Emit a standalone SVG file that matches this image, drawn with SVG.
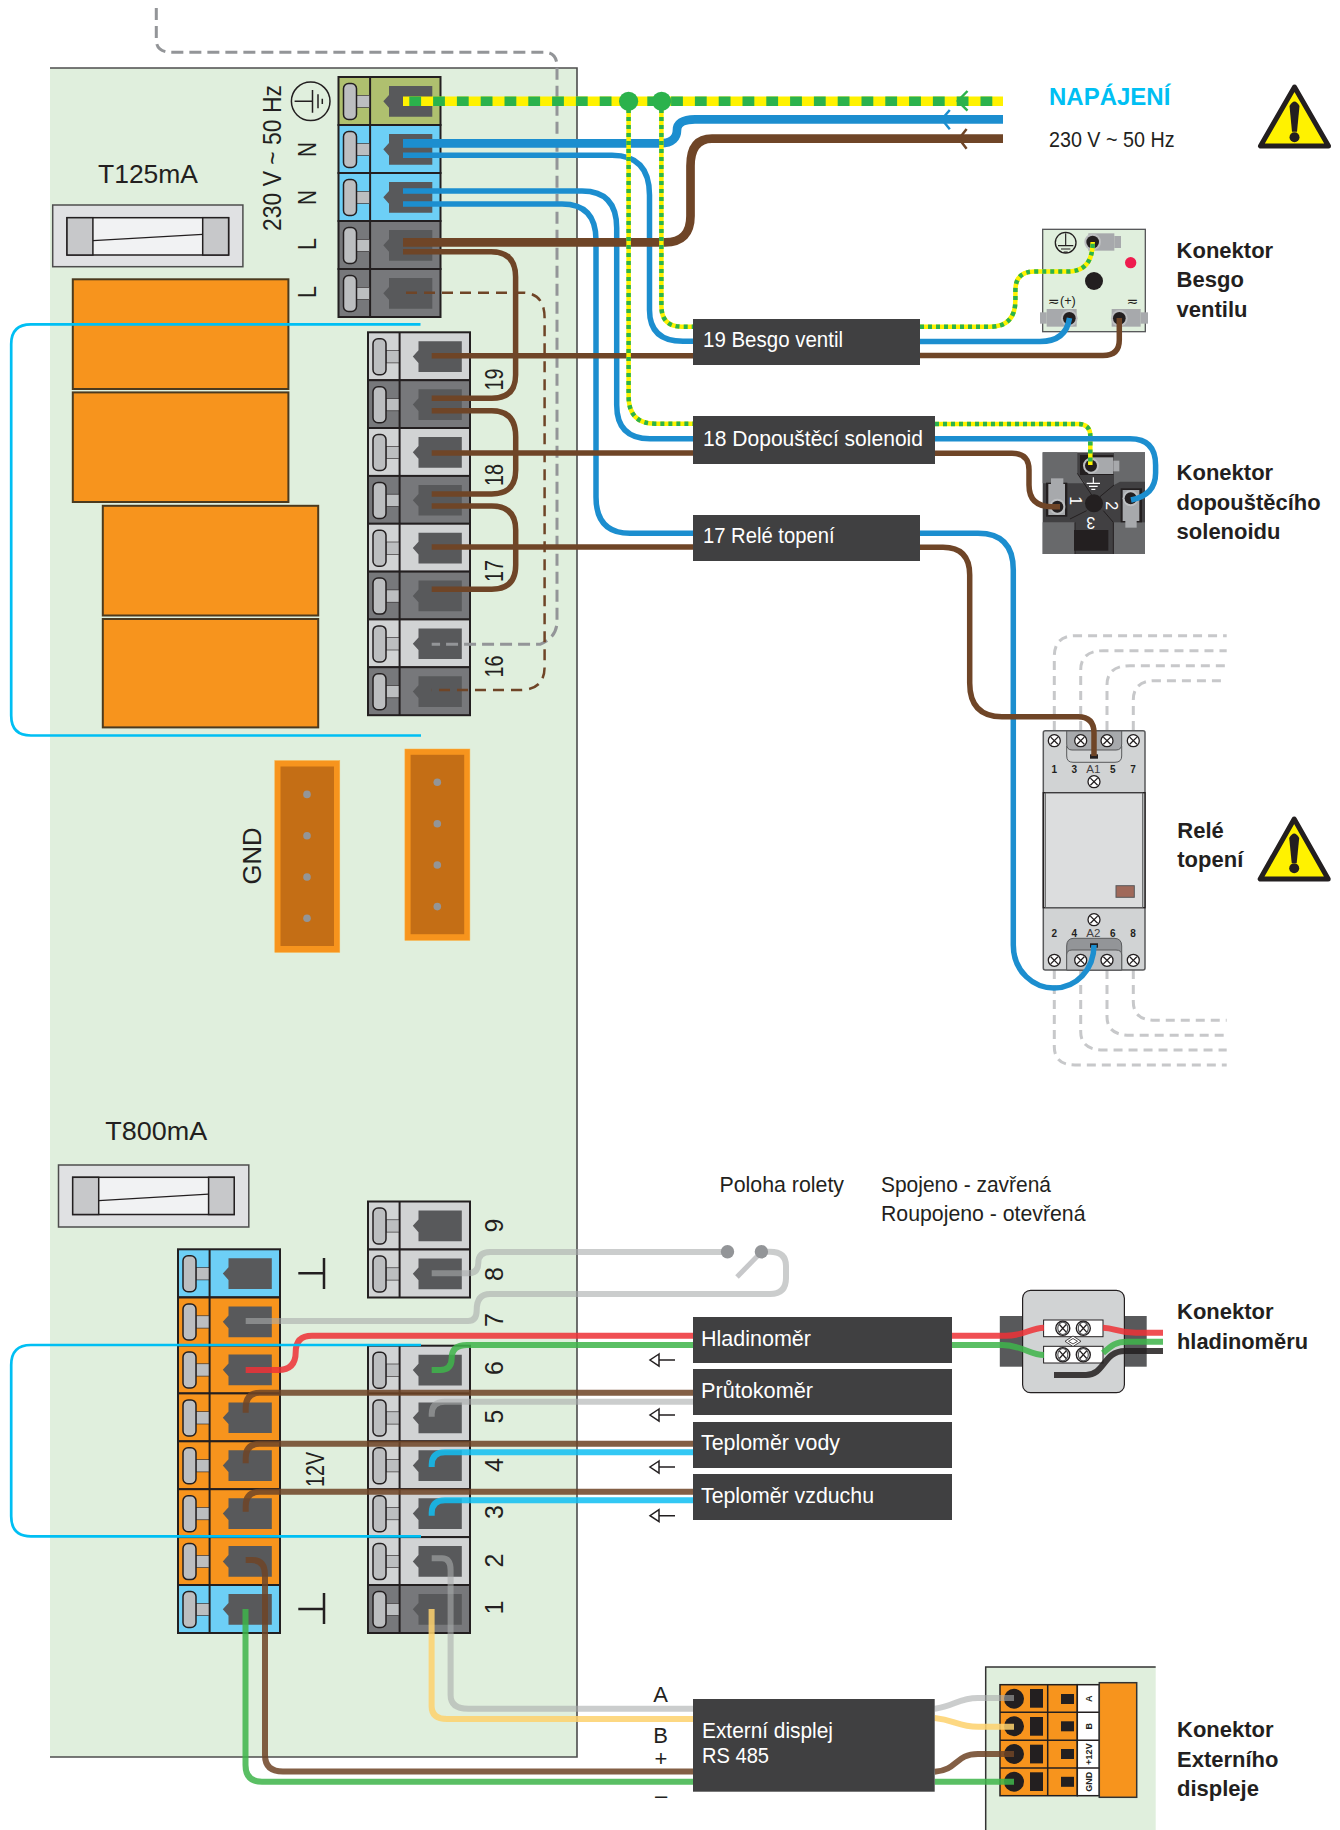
<svg xmlns="http://www.w3.org/2000/svg" xmlns:xlink="http://www.w3.org/1999/xlink" width="1340" height="1830" viewBox="0 0 1340 1830">
<style>
text{font-family:"Liberation Sans",Arial,sans-serif;fill:#231f20}
.b{font-weight:bold;font-size:22px}
.l{font-size:22px}
.w{fill:#fff;font-size:22px}
.v{font-size:25px}
.box{fill:#404041}
.wire{fill:none;stroke-linecap:butt}
.blue{stroke:#1c8ecf;stroke-width:5.5}
.blueT{stroke:#1c8ecf;stroke-width:8.7}
.brown{stroke:#6f4527;stroke-width:5.5}
.brownT{stroke:#6f4527;stroke-width:8.7}
.ey{stroke:#fff200;stroke-width:4.5}
.eg{stroke:#2bb24c;stroke-width:4.5;stroke-dasharray:4 4}
.low{stroke-width:6;stroke-opacity:.86}
.red{stroke:#ed3237}.grn{stroke:#3fb54a}.gry{stroke:#a9abab;stroke-opacity:.6}.cyn{stroke:#12bff2}.brn{stroke:#6f4527}.yel{stroke:#fdd26e}.blk{stroke:#231f20}
.cy{fill:none;stroke:#00bff3;stroke-width:2.7}
.dl{fill:none;stroke:#c7c8ca;stroke-width:3;stroke-dasharray:9 6}
.sc{fill:#fff;stroke:#231f20;stroke-width:1.3}
.sx{stroke:#231f20;stroke-width:1.3;fill:none}
.o{fill:#f7941d;stroke:#4b3a1f;stroke-width:2}
.sym{fill:none;stroke:#231f20;stroke-width:1.5}
.w2{fill:none;stroke:#231f20;stroke-width:2.5}
.ar{fill:none;stroke:#231f20;stroke-width:1.5}
.pin{fill:#939598}
.hdr{fill:#f7941d;stroke:#fbb040;stroke-width:.5}
.hin{fill:#c46e15}
.lbl{font-weight:bold;font-size:9px}
.rn{font-size:10px;font-weight:bold;text-anchor:middle}
.dv{font-family:"DejaVu Sans",sans-serif}
</style>
<defs>
<g id="t">
<rect width="102" height="48" stroke="#231f20" stroke-width="2"/>
<line x1="31.6" y1="0" x2="31.6" y2="48" stroke="#231f20" stroke-width="2"/>
<rect x="18" y="18.3" width="13" height="12.3" fill="#bcbec0" stroke="#231f20" stroke-width=".6"/>
<rect x="5" y="6.5" width="13" height="36" rx="5" fill="#bcbec0" stroke="#231f20" stroke-width="1.5"/>
<polygon points="50.5,9 93.8,9 93.8,39.7 50.5,39.7 50.5,30.7 44.8,24.3 50.5,18" fill="#58595b"/>
</g>
<g id="sx"><circle r="6" class="sc"/><path class="sx" d="M-3.6-3.6 3.6 3.6M-3.6 3.6 3.6-3.6"/></g>
<g id="sy"><circle r="7" fill="#fff" stroke="#231f20" stroke-width="1.4"/><ellipse rx="5" ry="6.2" fill="none" stroke="#58595b" stroke-width="1.2"/><path class="sx" d="M-3.4-3.8 3.4 3.8M-3.4 3.8 3.4-3.8"/></g>
<path id="arr" d="M25 0H9M9-6-0 0 9 6Z"/>
</defs>
<rect width="1340" height="1830" fill="#fff"/>

<g id="board">
<rect x="50" y="68" width="527" height="1689" fill="#e0efdd"/>
<path d="M50 68H577V1757H50" fill="none" stroke="#4d4d4d" stroke-width="1.6"/>
</g>

<g id="fuse-t125">
<text x="98" y="182.7" class="v" textLength="100" lengthAdjust="spacingAndGlyphs">T125mA</text>
<rect x="52.7" y="205" width="190.2" height="61.7" fill="#e0e1e3" stroke="#4d4d4d" stroke-width="1.5"/>
<rect x="67" y="217.7" width="161.6" height="37.3" fill="#f1f2f3" stroke="#231f20" stroke-width="1.5"/>
<rect x="67" y="217.7" width="25.9" height="37.3" fill="#c7c8ca" stroke="#231f20" stroke-width="1.5"/>
<rect x="202.7" y="217.7" width="25.9" height="37.3" fill="#c7c8ca" stroke="#231f20" stroke-width="1.5"/>
<line x1="93" y1="240.7" x2="202.7" y2="234.3" stroke="#231f20" stroke-width="1.2"/>
</g>
<g id="fuse-t800">
<text x="105.2" y="1140" class="v" textLength="102" lengthAdjust="spacingAndGlyphs">T800mA</text>
<rect x="58.5" y="1165" width="190.3" height="62" fill="#e0e1e3" stroke="#4d4d4d" stroke-width="1.5"/>
<rect x="72.7" y="1177.3" width="161.5" height="37.2" fill="#f1f2f3" stroke="#231f20" stroke-width="1.5"/>
<rect x="72.7" y="1177.3" width="26" height="37.2" fill="#c7c8ca" stroke="#231f20" stroke-width="1.5"/>
<rect x="208.6" y="1177.3" width="25.6" height="37.2" fill="#c7c8ca" stroke="#231f20" stroke-width="1.5"/>
<line x1="98.7" y1="1200.7" x2="208.6" y2="1194.2" stroke="#231f20" stroke-width="1.2"/>
</g>

<g id="modules">
<rect class="o" x="72.8" y="279.3" width="215.6" height="109.7"/>
<rect class="o" x="72.8" y="392.4" width="215.6" height="109.6"/>
<rect class="o" x="102.8" y="505.8" width="215.4" height="109.7"/>
<rect class="o" x="102.8" y="619" width="215.4" height="108.4"/>
</g>

<g id="header-gnd">
<rect class="hdr" x="274.8" y="760.6" width="65" height="191.8"/>
<rect class="hin" x="280.5" y="766.5" width="53.5" height="179.5"/>
<circle class="pin" cx="307" cy="794.4" r="3.8"/><circle class="pin" cx="307" cy="835.7" r="3.8"/><circle class="pin" cx="307" cy="877" r="3.8"/><circle class="pin" cx="307" cy="918.3" r="3.8"/>
<text transform="translate(261 884.6) rotate(-90)" class="v" textLength="57.2" lengthAdjust="spacingAndGlyphs">GND</text>
</g>
<g id="header-2">
<rect class="hdr" x="404.9" y="749" width="65" height="191.4"/>
<rect class="hin" x="410.6" y="754.8" width="53.6" height="179.4"/>
<circle class="pin" cx="437.3" cy="782.3" r="3.8"/><circle class="pin" cx="437.3" cy="823.7" r="3.8"/><circle class="pin" cx="437.3" cy="865" r="3.8"/><circle class="pin" cx="437.3" cy="906.6" r="3.8"/>
</g>

<g id="mains-terminals">
<use xlink:href="#t" href="#t" x="338.5" y="77" fill="#afc06f"/>
<use xlink:href="#t" href="#t" x="338.5" y="125" fill="#6dcff6"/>
<use xlink:href="#t" href="#t" x="338.5" y="173" fill="#6dcff6"/>
<use xlink:href="#t" href="#t" x="338.5" y="221" fill="#77787b"/>
<use xlink:href="#t" href="#t" x="338.5" y="269" fill="#77787b"/>
<circle cx="310.7" cy="101.3" r="19.3" class="sym"/>
<path class="sym" d="M294.6 101.3H312.5M312.5 90V112.7M318 94.3V108.3M322.3 98.7V104"/>
<text transform="translate(281 231) rotate(-90)" class="v" textLength="146" lengthAdjust="spacingAndGlyphs">230 V ~ 50 Hz</text>
<text transform="translate(315.6 157) rotate(-90)" class="v" textLength="15" lengthAdjust="spacingAndGlyphs">N</text>
<text transform="translate(315.6 205) rotate(-90)" class="v" textLength="15" lengthAdjust="spacingAndGlyphs">N</text>
<text transform="translate(315.6 250) rotate(-90)" class="v" textLength="12" lengthAdjust="spacingAndGlyphs">L</text>
<text transform="translate(315.6 298) rotate(-90)" class="v" textLength="12" lengthAdjust="spacingAndGlyphs">L</text>
</g>

<g id="relay-terminals">
<use xlink:href="#t" href="#t" x="368" y="332.3" fill="#d1d3d4"/>
<use xlink:href="#t" href="#t" x="368" y="380.2" fill="#77787b"/>
<use xlink:href="#t" href="#t" x="368" y="428" fill="#d1d3d4"/>
<use xlink:href="#t" href="#t" x="368" y="475.9" fill="#77787b"/>
<use xlink:href="#t" href="#t" x="368" y="523.7" fill="#d1d3d4"/>
<use xlink:href="#t" href="#t" x="368" y="571.6" fill="#77787b"/>
<use xlink:href="#t" href="#t" x="368" y="619.4" fill="#d1d3d4"/>
<use xlink:href="#t" href="#t" x="368" y="667.2" fill="#77787b"/>
<text transform="translate(502.7 390.5) rotate(-90)" class="v" textLength="22" lengthAdjust="spacingAndGlyphs">19</text>
<text transform="translate(502.7 486) rotate(-90)" class="v" textLength="22" lengthAdjust="spacingAndGlyphs">18</text>
<text transform="translate(502.7 582) rotate(-90)" class="v" textLength="22" lengthAdjust="spacingAndGlyphs">17</text>
<text transform="translate(502.7 677.5) rotate(-90)" class="v" textLength="22" lengthAdjust="spacingAndGlyphs">16</text>
</g>

<g id="power-terminals">
<use xlink:href="#t" href="#t" x="178" y="1249.3" fill="#6dcff6"/>
<use xlink:href="#t" href="#t" x="178" y="1297.5" fill="#f7941d"/>
<use xlink:href="#t" href="#t" x="178" y="1345.5" fill="#f7941d"/>
<use xlink:href="#t" href="#t" x="178" y="1393.4" fill="#f7941d"/>
<use xlink:href="#t" href="#t" x="178" y="1441.3" fill="#f7941d"/>
<use xlink:href="#t" href="#t" x="178" y="1489.2" fill="#f7941d"/>
<use xlink:href="#t" href="#t" x="178" y="1537.1" fill="#f7941d"/>
<use xlink:href="#t" href="#t" x="178" y="1585" fill="#6dcff6"/>
<path class="w2" d="M298.3 1273.3H324M324 1258V1289M298.3 1609H324M324 1593V1624"/>
<text transform="translate(324 1487) rotate(-90)" class="v" textLength="35" lengthAdjust="spacingAndGlyphs">12V</text>
</g>

<g id="signal-terminals">
<use xlink:href="#t" href="#t" x="368" y="1201.5" fill="#d1d3d4"/>
<use xlink:href="#t" href="#t" x="368" y="1249.5" fill="#d1d3d4"/>
<use xlink:href="#t" href="#t" x="368" y="1345.7" fill="#d1d3d4"/>
<use xlink:href="#t" href="#t" x="368" y="1393.5" fill="#d1d3d4"/>
<use xlink:href="#t" href="#t" x="368" y="1441.3" fill="#d1d3d4"/>
<use xlink:href="#t" href="#t" x="368" y="1489.2" fill="#d1d3d4"/>
<use xlink:href="#t" href="#t" x="368" y="1537.1" fill="#d1d3d4"/>
<use xlink:href="#t" href="#t" x="368" y="1585" fill="#77787b"/>
<text transform="translate(502.7 1232.6) rotate(-90)" class="v">9</text>
<text transform="translate(502.7 1281) rotate(-90)" class="v">8</text>
<text transform="translate(502.7 1327) rotate(-90)" class="v">7</text>
<text transform="translate(502.7 1375) rotate(-90)" class="v">6</text>
<text transform="translate(502.7 1423.6) rotate(-90)" class="v">5</text>
<text transform="translate(502.7 1472) rotate(-90)" class="v">4</text>
<text transform="translate(502.7 1519) rotate(-90)" class="v">3</text>
<text transform="translate(502.7 1567.6) rotate(-90)" class="v">2</text>
<text transform="translate(502.7 1614.6) rotate(-90)" class="v">1</text>
</g>

<g id="napajeni">
<text x="1049" y="105" font-size="23" font-weight="bold" style="fill:#00bff3" textLength="121.3" lengthAdjust="spacingAndGlyphs">NAPÁJENÍ</text>
<text x="1049" y="146.7" class="l" textLength="125.5" lengthAdjust="spacingAndGlyphs">230 V ~ 50 Hz</text>
<polygon points="1294.5,87 1260.5,146 1328.5,146" fill="#fff200" stroke="#231f20" stroke-width="5" stroke-linejoin="round"/>
<path d="M1289.5 106Q1294.5 97 1299.5 106L1297 131.7H1292Z" fill="#231f20"/><circle cx="1294.5" cy="137.3" r="5" fill="#231f20"/>
</g>

<g id="konektor-besgo">
<g transform="translate(1020 220) scale(.33333)">
<rect x="68" y="28" width="308" height="307" fill="#e0efdd" stroke="#58595b" stroke-width="4"/>
<circle cx="137" cy="68" r="31" fill="none" stroke="#231f20" stroke-width="4"/>
<path d="M137 40V77M114 77H160M123 87H151M131 96H143" fill="none" stroke="#231f20" stroke-width="3.5"/>
<rect x="283" y="48" width="20" height="36" fill="#a7a9ac"/><rect x="205" y="40" width="78" height="52" fill="#a7a9ac"/>
<circle cx="218" cy="66" r="25" fill="#bcbec0"/><circle cx="218" cy="66" r="19" fill="#231f20"/>
<circle cx="332" cy="128" r="17" fill="#ee1c4e"/><circle cx="222" cy="183" r="27" fill="#231f20"/>
<rect x="60" y="277" width="20" height="34" fill="#a7a9ac"/><rect x="80" y="267" width="90" height="53" fill="#a7a9ac"/>
<circle cx="148" cy="295" r="25" fill="#bcbec0"/><circle cx="148" cy="295" r="19" fill="#231f20"/>
<rect x="362" y="277" width="22" height="34" fill="#a7a9ac"/><rect x="275" y="267" width="87" height="53" fill="#a7a9ac"/>
<circle cx="298" cy="295" r="25" fill="#bcbec0"/><circle cx="298" cy="295" r="19" fill="#231f20"/>
<text x="84" y="259" font-size="42" class="dv">≂</text>
<text x="120" y="256" font-size="38">(+)</text>
<text x="320" y="259" font-size="42" class="dv">≂</text>
</g>
<text x="1176.6" y="258.3" class="b">Konektor</text><text x="1176.6" y="287.3" class="b">Besgo</text><text x="1176.6" y="316.7" class="b">ventilu</text>
</g>

<g id="konektor-solenoid">
<g transform="translate(1020 440) scale(.33333)">
<rect x="68" y="37" width="307" height="305" fill="#414042"/>
<polygon points="68,37 172,37 172,100 195,130 80,130 68,130" fill="#68696b"/>
<polygon points="282,37 375,37 375,125 300,125 282,135" fill="#68696b"/>
<polygon points="68,247 165,247 165,342 68,342" fill="#68696b"/>
<polygon points="280,247 375,247 375,342 280,342" fill="#68696b"/>
<path d="M172 100 215 165M282 135 240 170M150 237 200 212M250 212 280 247M280 247V342M165 247V342" fill="none" stroke="#231f20" stroke-width="3"/>
<rect x="180" y="45" width="100" height="60" fill="#231f20"/>
<rect x="205" y="52" width="75" height="50" fill="#a7a9ac"/><rect x="280" y="62" width="18" height="32" fill="#a7a9ac"/>
<circle cx="213" cy="77" r="24" fill="#bcbec0"/><circle cx="213" cy="77" r="18" fill="#231f20"/>
<rect x="78" y="128" width="64" height="102" fill="#231f20"/>
<rect x="85" y="132" width="50" height="93" fill="#a7a9ac"/><rect x="93" y="115" width="37" height="17" fill="#a7a9ac"/>
<circle cx="112" cy="200" r="24" fill="#bcbec0"/><circle cx="112" cy="200" r="18" fill="#231f20"/>
<rect x="302" y="145" width="64" height="102" fill="#231f20"/>
<rect x="308" y="150" width="50" height="93" fill="#a7a9ac"/><rect x="316" y="243" width="34" height="20" fill="#a7a9ac"/>
<circle cx="332" cy="175" r="24" fill="#bcbec0"/><circle cx="332" cy="175" r="18" fill="#231f20"/>
<circle cx="222" cy="190" r="27" fill="#231f20"/>
<rect x="162" y="270" width="103" height="62" fill="#231f20"/>
<path d="M220 112V130M200 130H240M207 139H233M214 148H226" fill="none" stroke="#fff" stroke-width="3.5"/>
<text transform="translate(151 169) rotate(90)" font-size="48" style="fill:#fff">1</text>
<text transform="translate(257 184) rotate(90)" font-size="48" style="fill:#fff">2</text>
<text transform="translate(226 230) rotate(180)" font-size="48" style="fill:#fff">3</text>
</g>
<text x="1176.6" y="480" class="b">Konektor</text><text x="1176.6" y="510" class="b" textLength="144" lengthAdjust="spacingAndGlyphs">dopouštěcího</text><text x="1176.6" y="539.3" class="b">solenoidu</text>
</g>

<g id="rele-topeni">
<path class="dl" d="M1054.3 730V656.7Q1054.3 635.7 1075 635.7H1226.7M1080.7 730V670Q1080.7 650.7 1103.3 650.7H1226.7M1107 730V685Q1107 665.7 1130 665.7H1226.7M1133.3 730V700Q1133.3 680.7 1155 680.7H1226.7"/>
<path class="dl" d="M1054.3 970V1046.7Q1054.3 1065 1075 1065H1226.7M1080.7 970V1031.7Q1080.7 1050 1103.3 1050H1226.7M1107 970V1016.7Q1107 1035.3 1130 1035.3H1226.7M1133.3 970V1001.7Q1133.3 1020.3 1155 1020.3H1226.7"/>
<rect x="1043.3" y="730.7" width="101.7" height="239.3" rx="2" fill="#d1d3d4" stroke="#58595b" stroke-width="1.5"/>
<rect x="1043.3" y="792.7" width="101.7" height="115" fill="#c7c8ca" stroke="#231f20" stroke-width="1.4"/>
<rect x="1045.3" y="793" width="97.4" height="114.5" fill="#dcddde" stroke="#58595b" stroke-width="1"/>
<rect x="1116" y="885.7" width="18.3" height="11.6" fill="#a0695a" stroke="#58595b"/>
<path d="M1066.7 746V756Q1066.7 762.3 1073 762.3H1115Q1121.7 762.3 1121.7 756V746Z" fill="#d1d3d4" stroke="#58595b"/>
<path d="M1066.7 731H1121.7V744Q1121.7 750 1116 750H1072Q1066.7 750 1066.7 744Z" fill="#a7a9ac" stroke="#58595b"/>
<path d="M1066.7 970V946Q1066.7 938.3 1074 938.3H1114Q1121.7 938.3 1121.7 946V970Z" fill="#939598" stroke="#58595b"/>
<path d="M1066.7 970V955Q1066.7 950 1072 950H1116Q1121.7 950 1121.7 955V970Z" fill="#bcbec0" stroke="#58595b"/>
<use xlink:href="#sx" href="#sx" x="1054.3" y="740.7"/><use xlink:href="#sx" href="#sx" x="1080.7" y="740.7"/><use xlink:href="#sx" href="#sx" x="1107" y="740.7"/><use xlink:href="#sx" href="#sx" x="1133.3" y="740.7"/>
<use xlink:href="#sx" href="#sx" x="1094" y="781.7"/><use xlink:href="#sx" href="#sx" x="1094" y="919.7"/>
<use xlink:href="#sx" href="#sx" x="1054.3" y="960.3"/><use xlink:href="#sx" href="#sx" x="1080.7" y="960.3"/><use xlink:href="#sx" href="#sx" x="1107" y="960.3"/><use xlink:href="#sx" href="#sx" x="1133.3" y="960.3"/>
<text class="rn" x="1054.3" y="773">1</text><text class="rn" x="1074.3" y="773">3</text><text x="1093.3" y="773" font-size="11.5" text-anchor="middle" style="fill:#414042">A1</text><text class="rn" x="1112.7" y="773">5</text><text class="rn" x="1133" y="773">7</text>
<text class="rn" x="1054.3" y="937">2</text><text class="rn" x="1074.3" y="937">4</text><text x="1093.3" y="937" font-size="11.5" text-anchor="middle" style="fill:#414042">A2</text><text class="rn" x="1112.7" y="937">6</text><text class="rn" x="1133" y="937">8</text>
<rect x="1090" y="754.3" width="8" height="4.4" fill="#231f20"/><rect x="1090" y="943.3" width="8" height="4.4" fill="#231f20"/>
<text x="1177.3" y="837.7" class="b">Relé</text><text x="1177.3" y="867.3" class="b">topení</text>
<polygon points="1294.2,819 1260.2,879 1328.2,879" fill="#fff200" stroke="#231f20" stroke-width="5" stroke-linejoin="round"/>
<path d="M1289.2 838Q1294.2 829 1299.2 838L1296.7 863H1291.7Z" fill="#231f20"/><circle cx="1294.2" cy="868.3" r="5" fill="#231f20"/>
</g>

<g id="poloha-rolety">
<text x="719.5" y="1192" class="l" textLength="124.5" lengthAdjust="spacingAndGlyphs">Poloha rolety</text>
<text x="881" y="1192" class="l" textLength="170" lengthAdjust="spacingAndGlyphs">Spojeno - zavřená</text>
<text x="881" y="1221" class="l" textLength="204.5" lengthAdjust="spacingAndGlyphs">Roupojeno - otevřená</text>
</g>

<g id="konektor-hladinomeru">
<rect x="999.8" y="1316" width="22.8" height="50.7" fill="#58595b"/>
<rect x="1124.4" y="1316" width="22.3" height="50.7" fill="#58595b"/>
<rect x="1022.6" y="1290.3" width="101.8" height="102.4" rx="8" fill="#d1d3d4" stroke="#231f20" stroke-width="1.2"/>
<rect x="1043.6" y="1320" width="59.4" height="16.7" fill="#fff" stroke="#231f20" stroke-width="1"/>
<rect x="1043.6" y="1346.3" width="59.4" height="16.7" fill="#fff" stroke="#231f20" stroke-width="1"/>
<use xlink:href="#sy" href="#sy" x="1062.8" y="1328.3"/><use xlink:href="#sy" href="#sy" x="1083.3" y="1328.3"/><use xlink:href="#sy" href="#sy" x="1062.8" y="1354.7"/><use xlink:href="#sy" href="#sy" x="1083.3" y="1354.7"/>
<path d="M1073 1336 1081 1341.3 1073 1346.5 1065 1341.3Z" fill="#fff" stroke="#231f20" stroke-width=".8"/>
<path d="M1073 1338.5 1077.5 1341.3 1073 1344 1068.5 1341.3Z" fill="none" stroke="#231f20" stroke-width=".8"/>
<text x="1177" y="1319" class="b">Konektor</text><text x="1177" y="1349" class="b" textLength="131" lengthAdjust="spacingAndGlyphs">hladinoměru</text>
</g>

<g id="konektor-displeje">
<path d="M985.7 1830V1667H1155.7V1830Z" fill="#e0efdd"/>
<path d="M985.7 1830V1667H1155.7" fill="none" stroke="#333" stroke-width="1.5"/>
<rect x="1000" y="1684.7" width="77.3" height="111" fill="#f7941d" stroke="#231f20" stroke-width="1.5"/>
<rect x="1077.3" y="1684.7" width="22" height="111" fill="#fff" stroke="#231f20" stroke-width="1.5"/>
<path d="M1000 1712.3H1099.3M1000 1740.3H1099.3M1000 1768H1099.3M1047.7 1684.7V1795.7" fill="none" stroke="#231f20" stroke-width="1.5"/>
<rect x="1099.3" y="1682.7" width="37.4" height="114.6" fill="#f7941d" stroke="#333" stroke-width="1.5"/>
<g fill="#231f20">
<circle cx="1014" cy="1698.7" r="10"/><circle cx="1014" cy="1726.3" r="10"/><circle cx="1014" cy="1754" r="10"/><circle cx="1014" cy="1781.7" r="10"/>
<rect x="1030" y="1689" width="13" height="18.7"/><rect x="1030" y="1717" width="13" height="18.7"/><rect x="1030" y="1744.7" width="13" height="18.7"/><rect x="1030" y="1772.3" width="13" height="18.7"/>
<rect x="1061" y="1694" width="13" height="10"/><rect x="1061" y="1721.3" width="13" height="10"/><rect x="1061" y="1749" width="13" height="10"/><rect x="1061" y="1776.8" width="13" height="10"/>
</g>
<text class="lbl" text-anchor="middle" transform="translate(1092.3 1698.7) rotate(-90)">A</text>
<text class="lbl" text-anchor="middle" transform="translate(1092.3 1726.3) rotate(-90)">B</text>
<text class="lbl" text-anchor="middle" transform="translate(1092.3 1754) rotate(-90)">+12V</text>
<text class="lbl" text-anchor="middle" transform="translate(1092.3 1781.7) rotate(-90)">GND</text>
<text x="1177" y="1737" class="b">Konektor</text><text x="1177" y="1766.7" class="b">Externího</text><text x="1177" y="1795.7" class="b">displeje</text>
</g>

<g id="connectors">
<path fill="none" stroke="#939598" stroke-width="3" stroke-dasharray="12 6" d="M156.3 8V40Q156.3 52.3 172 52.3H544.6Q556.7 52.3 557 66V623Q556 638 540 644.3H431.7"/>
<path fill="none" stroke="#6f4527" stroke-width="2.5" stroke-dasharray="11 7" d="M406 292.7H522Q544.6 292.7 544.6 318V666.7Q544.6 690 520 690H431.7"/>

<path class="wire blueT" d="M403 143.3H660C673 143.3 677 137 677 130C677 124 682 119.3 695 119.3H1003"/>
<path class="wire blue" d="M403 155.3H612Q649.5 155.3 649.5 195V310Q649.5 341.3 683 341.3H693"/>
<path class="wire blue" d="M403 191H582Q616.7 191 616.7 228V405Q616.7 438.7 650 438.7H693"/>
<path class="wire blue" d="M403 204H562Q596 204 596 240V497Q596 533.3 630 533.3H693"/>
<path class="wire brownT" d="M403 242.3H665Q690.5 242.3 690.5 216V166Q690.5 138.7 712 138.7H1003"/>
<path class="wire brown" d="M403 251.7H491Q515.6 251.7 515.6 277V375Q515.6 398.3 491.7 398.3H431.7"/>
<path class="wire brown" d="M431.7 355.7H693"/>
<path class="wire brown" d="M431.7 410.7H491.7Q515.7 410.7 515.7 436.7V470Q515.7 494 491.7 494H431.7"/>
<path class="wire brown" d="M431.7 453H693"/>
<path class="wire brown" d="M431.7 506H491.7Q515.7 506 515.7 530V565Q515.7 589.3 491.7 589.3H431.7"/>
<path class="wire brown" d="M431.7 547H693"/>

<path class="wire ey" d="M628.6 101V396Q628.6 423.7 655 423.7H693"/><path class="wire eg" d="M628.6 101V396Q628.6 423.7 655 423.7H693"/>
<path class="wire ey" d="M661.4 101V306Q661.4 326.7 682 326.7H693"/><path class="wire eg" d="M661.4 101V306Q661.4 326.7 682 326.7H693"/>
<path d="M403 101.3H1003" fill="none" stroke="#fff200" stroke-width="9.4"/>
<path d="M409.3 101.3H1003" fill="none" stroke="#2bb24c" stroke-width="9.4" stroke-dasharray="11.8 12"/>
<circle cx="628.6" cy="101.3" r="9.6" fill="#2bb24c"/><circle cx="661.6" cy="101.3" r="9.6" fill="#2bb24c"/>
<path d="M967.5 91 957.8 101 967.5 110.7" fill="none" stroke="#2bb24c" stroke-width="2.5"/>
<path d="M949.8 110 941.8 119.3 949.8 129.3" fill="none" stroke="#1c8ecf" stroke-width="2.5"/>
<path d="M966.6 129 959 138.7 966.6 148.7" fill="none" stroke="#6f4527" stroke-width="2.5"/>

<path class="wire ey" d="M920 326.7H990Q1015.4 326.7 1015.4 300V290Q1015.4 271.5 1035 271.5H1068Q1092.7 271.5 1092.7 242"/><path class="wire eg" d="M920 326.7H990Q1015.4 326.7 1015.4 300V290Q1015.4 271.5 1035 271.5H1068Q1092.7 271.5 1092.7 242"/>
<path class="wire blue" d="M920 341.5H1040Q1066 341.5 1069.5 318"/>
<path class="wire brown" d="M920 355.5H1103Q1119.3 355.5 1119.3 340V318"/>
<path class="wire ey" d="M935 424H1078Q1090.3 424 1090.3 436V465"/><path class="wire eg" d="M935 424H1078Q1090.3 424 1090.3 436V465"/>
<path class="wire blue" d="M935 438.7H1130Q1155.6 438.7 1155.6 465V473Q1155.6 495 1131 500"/>
<path class="wire brown" d="M935 453.3H1012Q1029 453.3 1029 470V485Q1029 506.7 1052 506.7H1060"/>
<path class="wire blue" d="M920 533.3H978Q1013.3 533.3 1013.3 570V945C1013.3 972 1034 988 1054 988C1076 988 1094 970 1094 945"/>
<path class="wire brown" d="M920 547.3H943Q969.7 547.3 969.7 575V683Q969.7 716.7 1002 716.7H1078Q1094 716.7 1094 733V756"/>

<path class="cy" d="M420.5 324.3H31Q11.2 324.3 11.2 344V715.5Q11.2 735.5 31 735.5H421"/>

<path class="wire low gry" d="M431.7 1273.3H468Q478.3 1273.3 478.3 1263Q478.3 1252 490 1252H727"/>
<path class="wire low gry" d="M245.7 1321H468Q476.7 1321 476.7 1310Q476.7 1294 490 1294H770Q786 1294 786 1278V1266Q786 1251.7 770 1251.7H761"/>
<path d="M761.4 1252 737 1277" stroke="#c7c8ca" stroke-width="5" fill="none"/>
<circle cx="727.5" cy="1251.7" r="6.7" fill="#939598"/><circle cx="761.4" cy="1251.7" r="6.7" fill="#939598"/>

<path class="wire low red" d="M245.7 1370H278Q295.7 1370 295.7 1352Q295.7 1335.7 312 1335.7H1006C1025 1335.7 1030 1328 1044 1327.7"/>
<path class="wire low red" d="M1103 1327.7C1115 1328 1118 1332.7 1136 1332.7H1163"/>
<path class="wire low grn" d="M431.7 1370H440Q451.7 1370 451.7 1358Q451.7 1345 467 1345H1002C1022 1345 1030 1355 1044 1355"/>
<path class="wire low grn" d="M1103 1353C1112 1345 1116 1341.7 1127 1341.7H1163"/>
<path class="wire low blk" d="M1054 1375H1086C1105 1375 1103 1351 1125 1351H1163"/>
<path class="wire low brn" d="M245.7 1412.7V1408Q245.7 1392.7 260 1392.7H693"/>
<path class="wire low gry" d="M431.7 1416.7V1414Q431.7 1401.7 445 1401.7H693"/>
<path class="wire low brn" d="M245.7 1463.3V1458Q245.7 1443.7 260 1443.7H693"/>
<path class="wire low cyn" d="M431.7 1467V1465Q431.7 1452.3 445 1452.3H693"/>
<path class="wire low brn" d="M245.7 1511.7V1506Q245.7 1491.7 260 1491.7H693"/>
<path class="wire low cyn" d="M431.7 1515.7V1513Q431.7 1500.3 445 1500.3H693"/>
<path class="wire low brn" d="M245.7 1560H252Q265 1560 265 1575V1755Q265 1771.5 283 1771.5H693"/>
<path class="wire low grn" d="M245.5 1609V1765Q245.5 1781.7 262 1781.7H693"/>
<path class="wire low yel" d="M431.6 1609V1706Q431.6 1719 447 1719H693"/>
<path class="wire low gry" d="M431.7 1558.3H442Q450.6 1558.3 450.6 1570V1695Q450.6 1708.7 468 1708.7H693"/>
<path class="wire low gry" d="M934.7 1708.7C955 1706 958 1698 978 1698H1014"/>
<path class="wire low yel" d="M934.7 1718C955 1720 958 1726.7 978 1726.7H1014"/>
<path class="wire low brn" d="M934.7 1771.7C958 1770 955 1754 978 1754H1014"/>
<path class="wire low grn" d="M934.7 1781.7H1014"/>
<path class="cy" d="M421 1345H31Q11.2 1345 11.2 1365V1516.3Q11.2 1536.3 31 1536.3H421"/>
<g class="ar">
<use xlink:href="#arr" href="#arr" x="650" y="1360"/>
<use xlink:href="#arr" href="#arr" x="650" y="1415"/>
<use xlink:href="#arr" href="#arr" x="650" y="1467"/>
<use xlink:href="#arr" href="#arr" x="650" y="1515.7"/>
</g>
</g>

<g id="box-besgo"><rect class="box" x="693" y="319" width="227" height="46"/><text class="w" x="703" y="347.3" textLength="140" lengthAdjust="spacingAndGlyphs">19 Besgo ventil</text></g>
<g id="box-solenoid"><rect class="box" x="693" y="416" width="242" height="48"/><text class="w" x="703" y="446" textLength="220" lengthAdjust="spacingAndGlyphs">18 Dopouštěcí solenoid</text></g>
<g id="box-rele"><rect class="box" x="693" y="515" width="227" height="46"/><text class="w" x="703" y="543.3" textLength="131.5" lengthAdjust="spacingAndGlyphs">17 Relé topení</text></g>
<g id="box-hladinomer"><rect class="box" x="693" y="1317" width="259" height="46"/><text class="w" x="701" y="1346" textLength="110" lengthAdjust="spacingAndGlyphs">Hladinoměr</text></g>
<g id="box-prutokomer"><rect class="box" x="693" y="1369" width="259" height="46"/><text class="w" x="701" y="1398.3" textLength="112" lengthAdjust="spacingAndGlyphs">Průtokoměr</text></g>
<g id="box-voda"><rect class="box" x="693" y="1422" width="259" height="46"/><text class="w" x="701" y="1450" textLength="139" lengthAdjust="spacingAndGlyphs">Teploměr vody</text></g>
<g id="box-vzduch"><rect class="box" x="693" y="1474" width="259" height="46"/><text class="w" x="701" y="1503" textLength="173" lengthAdjust="spacingAndGlyphs">Teploměr vzduchu</text></g>
<g id="box-displej">
<rect class="box" x="693" y="1699" width="241.7" height="92.7"/>
<text class="w" x="702" y="1738" textLength="131" lengthAdjust="spacingAndGlyphs">Externí displej</text><text class="w" x="702" y="1763" textLength="67" lengthAdjust="spacingAndGlyphs">RS 485</text>
<text class="l" x="660.7" y="1702" text-anchor="middle">A</text><text class="l" x="660.7" y="1742.7" text-anchor="middle">B</text><text class="l" x="661" y="1766" text-anchor="middle">+</text><text class="l" x="661" y="1803" text-anchor="middle">–</text>
</g>
</svg>
